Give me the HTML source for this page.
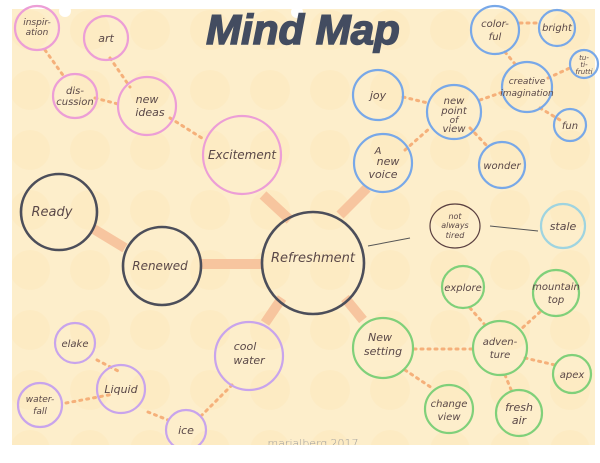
<!DOCTYPE html>
<html><head><meta charset="utf-8"><style>
html,body{margin:0;padding:0;background:#fff;}
svg{display:block}
text{font-family:"DejaVu Sans","Liberation Sans",sans-serif;fill:#5a4848;font-style:italic;font-weight:300;}
</style></head><body>
<svg width="600" height="463" viewBox="0 0 600 463" xmlns="http://www.w3.org/2000/svg">
<defs>
<pattern id="dots" width="60" height="60" patternUnits="userSpaceOnUse">
<circle cx="30" cy="30" r="20" fill="#fbe4b5" opacity="0.35"/>
</pattern>
</defs>
<rect x="0" y="0" width="600" height="463" fill="#fff"/>
<rect x="12" y="9" width="583" height="436" fill="#fdeecb"/>
<rect x="12" y="9" width="583" height="436" fill="url(#dots)"/>
<circle cx="65" cy="11" r="6" fill="#fff"/>
<circle cx="297" cy="12" r="6" fill="#fff"/>
<text x="303" y="44" text-anchor="middle" font-size="42" style="fill:#434c60;stroke:#434c60;stroke-width:1.5;font-family:'Liberation Sans',sans-serif;font-style:italic;font-weight:bold">Mind Map</text>

<!-- thick bands -->
<g stroke="#f6bf98" stroke-width="10" opacity="0.85">
<line x1="92" y1="228" x2="125" y2="248"/>
<line x1="201" y1="264" x2="262" y2="264"/>
<line x1="263" y1="195" x2="290" y2="220"/>
<line x1="367" y1="188" x2="340" y2="215"/>
<line x1="282" y1="298" x2="265" y2="323"/>
<line x1="345" y1="298" x2="363" y2="320"/>
</g>
<!-- dotted connectors -->
<g stroke="#f5b07a" stroke-width="3" stroke-dasharray="2 5" stroke-linecap="round" fill="none">
<line x1="45" y1="50" x2="65" y2="78"/>
<line x1="95" y1="98" x2="118" y2="104"/>
<line x1="110" y1="58" x2="130" y2="87"/>
<line x1="170" y1="118" x2="205" y2="140"/>
<line x1="403" y1="97" x2="428" y2="103"/>
<line x1="405" y1="150" x2="430" y2="128"/>
<line x1="470" y1="128" x2="488" y2="147"/>
<line x1="480" y1="100" x2="503" y2="92"/>
<line x1="505" y1="52" x2="515" y2="64"/>
<line x1="520" y1="23" x2="540" y2="23"/>
<line x1="548" y1="78" x2="572" y2="67"/>
<line x1="540" y1="108" x2="560" y2="120"/>
<line x1="414" y1="349" x2="472" y2="349"/>
<line x1="470" y1="308" x2="485" y2="325"/>
<line x1="540" y1="312" x2="520" y2="330"/>
<line x1="525" y1="358" x2="555" y2="365"/>
<line x1="505" y1="375" x2="512" y2="392"/>
<line x1="405" y1="370" x2="432" y2="388"/>
<line x1="97" y1="360" x2="120" y2="372"/>
<line x1="66" y1="403" x2="114" y2="394"/>
<line x1="148" y1="412" x2="168" y2="420"/>
<line x1="232" y1="385" x2="202" y2="415"/>
</g>
<g stroke="#555" stroke-width="1" fill="none">
<line x1="368" y1="246" x2="410" y2="238"/>
<line x1="490" y1="226" x2="538" y2="231"/>
</g>

<g fill="none" stroke-width="2.2">
<g stroke="#ec9ed6">
<circle cx="37" cy="28" r="22"/><circle cx="106" cy="38" r="22"/>
<circle cx="75" cy="96" r="22"/><circle cx="147" cy="106" r="29"/>
<circle cx="242" cy="155" r="39"/>
</g>
<g stroke="#4c4e5a" stroke-width="2.6">
<circle cx="59" cy="212" r="38"/><circle cx="162" cy="266" r="39"/>
<circle cx="313" cy="263" r="51"/>
</g>
<g stroke="#78a8e8">
<circle cx="383" cy="163" r="29"/><circle cx="378" cy="95" r="25"/>
<circle cx="454" cy="112" r="27"/><circle cx="502" cy="165" r="23"/>
<circle cx="495" cy="30" r="24"/><circle cx="557" cy="28" r="18"/>
<circle cx="527" cy="87" r="25"/><circle cx="584" cy="64" r="14"/>
<circle cx="570" cy="125" r="16"/>
</g>
<g stroke="#9fd4e0"><circle cx="563" cy="226" r="22"/></g>
<g stroke="#80d07a">
<circle cx="463" cy="287" r="21"/><circle cx="556" cy="293" r="23"/>
<circle cx="500" cy="348" r="27"/><circle cx="572" cy="374" r="19"/>
<circle cx="519" cy="413" r="23"/><circle cx="449" cy="409" r="24"/>
<circle cx="383" cy="348" r="30"/>
</g>
<g stroke="#c8a4ec">
<circle cx="249" cy="356" r="34"/><circle cx="75" cy="343" r="20"/>
<circle cx="121" cy="389" r="24"/><circle cx="40" cy="405" r="22"/>
<circle cx="186" cy="430" r="20"/>
</g>
<g stroke="#5a4040" stroke-width="1.2"><ellipse cx="455" cy="226" rx="25" ry="22"/></g>
</g>

<g font-size="11" text-anchor="middle">
<text x="37" y="25" font-size="9">inspir-</text><text x="37" y="35" font-size="9">ation</text>
<text x="106" y="42">art</text>
<text x="75" y="94" font-size="10">dis-</text><text x="75" y="105" font-size="10">cussion</text>
<text x="147" y="103">new</text><text x="150" y="116">ideas</text>
<text x="242" y="159" font-size="12">Excitement</text>
<text x="52" y="216" font-size="13">Ready</text>
<text x="160" y="270" font-size="12">Renewed</text>
<text x="313" y="262" font-size="13">Refreshment</text>
<text x="378" y="154" font-size="10">A</text><text x="388" y="165">new</text><text x="383" y="178">voice</text>
<text x="378" y="99">joy</text>
<text x="454" y="104" font-size="10">new</text><text x="454" y="114" font-size="10">point</text><text x="454" y="123" font-size="9">of</text><text x="454" y="132" font-size="10">view</text>
<text x="502" y="169" font-size="10">wonder</text>
<text x="495" y="27" font-size="10">color-</text><text x="495" y="40" font-size="10">ful</text>
<text x="557" y="31" font-size="10">bright</text>
<text x="527" y="84" font-size="9">creative</text><text x="527" y="96" font-size="9">imagination</text>
<text x="584" y="60" font-size="7">tu-</text><text x="584" y="67" font-size="7">ti-</text><text x="584" y="74" font-size="7">frutti</text>
<text x="570" y="129" font-size="10">fun</text>
<text x="563" y="230">stale</text>
<text x="455" y="219" font-size="8">not</text><text x="455" y="228" font-size="8">always</text><text x="455" y="238" font-size="8">tired</text>
<text x="463" y="291" font-size="10">explore</text>
<text x="556" y="290" font-size="10">mountain</text><text x="556" y="303" font-size="10">top</text>
<text x="500" y="345" font-size="10">adven-</text><text x="500" y="358" font-size="10">ture</text>
<text x="572" y="378" font-size="10">apex</text>
<text x="519" y="411">fresh</text><text x="519" y="424">air</text>
<text x="449" y="407" font-size="10">change</text><text x="449" y="420" font-size="10">view</text>
<text x="380" y="341">New</text><text x="383" y="355">setting</text>
<text x="245" y="350">cool</text><text x="249" y="364">water</text>
<text x="75" y="347" font-size="10">elake</text>
<text x="121" y="393">Liquid</text>
<text x="40" y="402" font-size="9">water-</text><text x="40" y="414" font-size="9">fall</text>
<text x="186" y="434">ice</text>
</g>
<text x="313" y="447" font-size="11" text-anchor="middle" style="fill:#9a9a9a;font-style:normal">marialberg 2017</text>
<rect x="0" y="445" width="600" height="18" fill="#fff"/>
</svg>
</body></html>
